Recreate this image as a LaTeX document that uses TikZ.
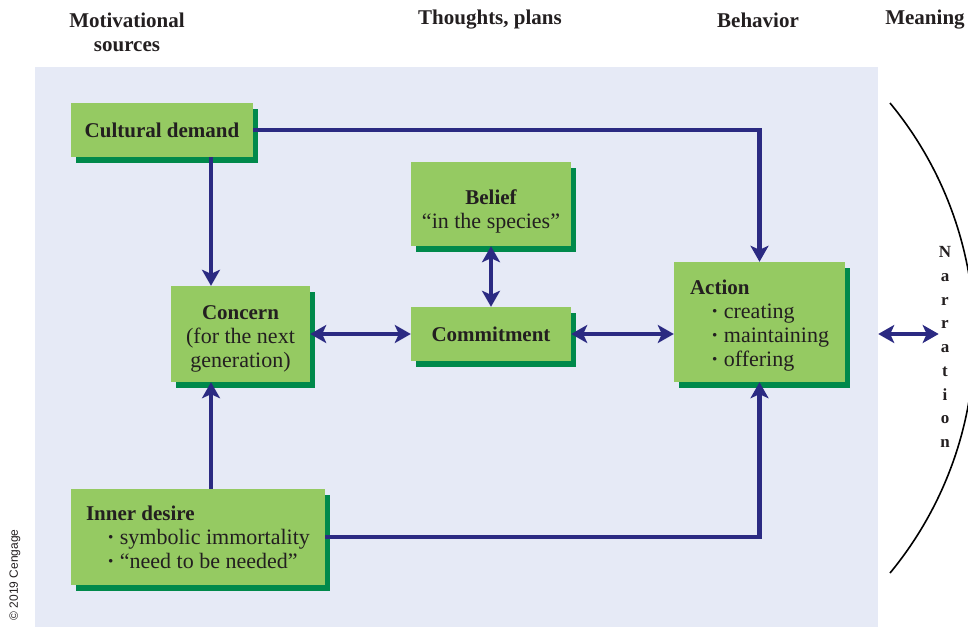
\documentclass[tikz,border=0pt]{standalone}
\usepackage{fontspec}
\setmainfont{Liberation Serif}
\newfontfamily\creditfont{Liberation Sans}
\usepackage{tikz}
\usetikzlibrary{arrows.meta, shadows}
\usepackage{xcolor}

\definecolor{panelblue}{HTML}{E6EAF6}
\definecolor{boxgreen}{HTML}{95CA62}
\definecolor{shadegreen}{HTML}{00894B}
\definecolor{linknavy}{HTML}{2B2A82}
\definecolor{inkgray}{HTML}{231F20}

\newcommand{\boxtitle}[1]{{\bfseries\fontsize{21}{24}\selectfont #1}}
\newcommand{\bulletline}[1]{\hspace*{21pt}{\bfseries ·}~#1}
% taller first line pushes a block down inside its box
\newcommand{\sinkto}[1]{\rule{0pt}{#1}}

\begin{document}
\begin{tikzpicture}[
  x=1pt, y=-1pt,
  every node/.style={text=inkgray, inner sep=0pt},
  box/.style={rectangle, fill=boxgreen, align=center,
    drop shadow={shadow xshift=5pt, shadow yshift=-6pt, fill=shadegreen, opacity=1},
    font=\fontsize{22}{24}\selectfont},
  head/.style={font=\bfseries\fontsize{21}{24}\selectfont, align=center},
  link/.style={draw=linknavy, line width=4.5pt, -{Stealth[length=16pt, width=18pt, inset=4pt]}},
  both/.style={link, {Stealth[length=16pt, width=18pt, inset=4pt]}-{Stealth[length=16pt, width=18pt, inset=4pt]}}
]
  \useasboundingbox (0,0) rectangle (968,627);
  \node[fill=panelblue, minimum width=843pt, minimum height=560pt] (panel) at (456.5,347) {};

  % column headings
  \node[head] (motiv) at (127,32) {Motivational\\sources};
  \node[head] (thought) at (490,20) {Thoughts, plans};
  \node[head] (behav) at (758,20) {Behavior};
  \node[head] (mean) at (925,20) {Meaning};

  \node[box, minimum width=182pt, minimum height=54pt] (cult) at (162,130) {\boxtitle{Cultural demand}};
  \node[box, minimum width=160pt, minimum height=84pt] (belief) at (491,204) {\sinkto{29pt}\boxtitle{Belief}\\“in the species”};
  \node[box, minimum width=160pt, minimum height=54pt] (commit) at (491,334) {\boxtitle{Commitment}};
  \node[box, minimum width=139pt, minimum height=96pt] (concern) at (240.5,334) {\sinkto{23pt}\boxtitle{Concern}\\(for the next\\generation)};
  \node[box, minimum width=171pt, minimum height=120pt, align=left] (action) at (759.5,322)
    {\sinkto{22pt}\boxtitle{Action}\\\bulletline{creating}\\\bulletline{maintaining}\\\bulletline{offering}};
  \node[box, minimum width=254pt, minimum height=96pt, align=left] (inner) at (198,537)
    {\boxtitle{Inner desire}\\\bulletline{symbolic immortality}\\\bulletline{“need to be needed”}};

  % meaning side
  \draw[line width=1.6pt] (890,103) arc[start angle=-39.5, end angle=39.5, radius=369.5];
  \node[font=\bfseries\fontsize{17}{23.75}\selectfont, align=center] (narr) at (945,347) {N\\a\\r\\r\\a\\t\\i\\o\\n};

  \node[font=\creditfont\fontsize{12}{14}\selectfont, rotate=90] (credit) at (15,575) {© 2019 Cengage};

  \coordinate (spine) at (211,0);
  \draw[link] (cult.south -| spine) -- (concern.north -| spine);
  \draw[link] (inner.north -| spine) -- (concern.south -| spine);
  \draw[link] (cult.east) -| (action.north);
  \draw[link] (inner.east) -| (action.south);
  \draw[both] (concern.east) -- (commit.west);
  \draw[both] (belief.south) -- (commit.north);
  \draw[both] (commit.east) -- (commit.east -| action.west);
  \draw[both] (panel.east |- commit.east) -- (narr.west |- commit.east);
\end{tikzpicture}
\end{document}
